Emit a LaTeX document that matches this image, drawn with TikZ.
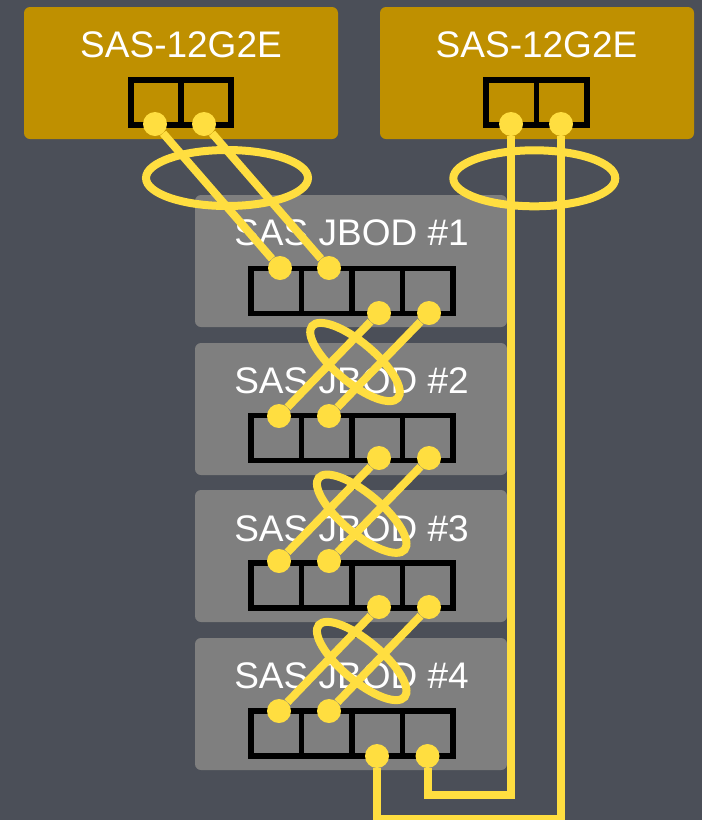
\documentclass[tikz,border=0pt]{standalone}
\usepackage{fontspec}
\setmainfont{Liberation Sans}
\usepackage{tikz}
\usetikzlibrary{shapes.geometric}
\definecolor{slatebg}{HTML}{4B4F58}
\definecolor{hbagold}{HTML}{BF9000}
\definecolor{jbodgrey}{HTML}{7F7F7F}
\definecolor{cableyellow}{HTML}{FFDE40}
\tikzset{
  box/.style={rounded corners=6pt, minimum width=314pt, minimum height=132pt, inner sep=0pt},
  hba/.style={box, fill=hbagold},
  jbod/.style={box, fill=jbodgrey, minimum width=312pt},
  title/.style={text=white, font=\fontsize{37pt}{40pt}\selectfont, inner sep=0pt, anchor=base},
  port/.style={draw=black, line width=5.5pt, minimum width=50.5pt, minimum height=45pt, inner sep=0pt},
  portdot/.style={circle, fill=cableyellow, minimum size=24pt, inner sep=0pt},
  cable/.style={draw=cableyellow, line width=8pt},
  ring/.style={ellipse, draw=cableyellow, line width=8pt, inner sep=0pt}
}

\begin{document}
\begin{tikzpicture}[x=1pt, y=-1pt]

  \fill[slatebg] (0,0) rectangle (702,820);
  \useasboundingbox (0,0) rectangle (702,820);

  % controllers
  \node[hba] (hbaA) at (181,73) {};
  \node[hba] (hbaB) at (537,73) {};
  \node[title] (hbaAtitle) at (181,57.5) {SAS-12G2E};
  \node[title] (hbaBtitle) at (536.5,57.5) {SAS-12G2E};

  \node[port, minimum width=50pt] (hbaAp1) at (155.8,102.5) {};
  \node[port, minimum width=50pt] (hbaAp2) at (205.8,102.5) {};
  \node[port] (hbaBp1) at (511,102.5) {};
  \node[port] (hbaBp2) at (561.5,102.5) {};

  % enclosures
  \foreach \n/\y/\t/\p in {1/261/245/291, 2/409/393/438, 3/556/541/585.7, 4/704/688/733.3} {
    \node[jbod] (jbod\n) at (351,\y) {};
    \node[title] (jbod\n title) at (351.5,\t) {SAS JBOD \#\n};
    \node[port] (jbod\n p1) at (276,\p) {};
    \node[port] (jbod\n p2) at (326.5,\p) {};
    \node[port] (jbod\n p3) at (377,\p) {};
    \node[port] (jbod\n p4) at (427.5,\p) {};
  }

  % port dots
  \node[portdot] (a1) at (155,124) {};
  \node[portdot] (a2) at (204,124) {};
  \node[portdot] (b1) at (511,124) {};
  \node[portdot] (b2) at (561,124) {};
  \node[portdot] (j1a) at (280,268) {};
  \node[portdot] (j1b) at (329,268) {};
  \node[portdot] (j1c) at (379,313) {};
  \node[portdot] (j1d) at (429,313) {};
  \node[portdot] (j2a) at (279,416) {};
  \node[portdot] (j2b) at (329,416) {};
  \node[portdot] (j2c) at (379,458) {};
  \node[portdot] (j2d) at (429,458) {};
  \node[portdot] (j3a) at (279,561) {};
  \node[portdot] (j3b) at (329,561) {};
  \node[portdot] (j3c) at (379,607) {};
  \node[portdot] (j3d) at (429,607) {};
  \node[portdot] (j4a) at (279,711) {};
  \node[portdot] (j4b) at (329,711) {};
  \node[portdot] (j4c) at (377,756) {};
  \node[portdot] (j4d) at (427.5,756) {};

  % cables
  \draw[cable] (a1) -- (j1a);
  \draw[cable] (a2) -- (j1b);
  \draw[cable] (j1c) -- (j2a);
  \draw[cable] (j1d) -- (j2b);
  \draw[cable] (j2c) -- (j3a);
  \draw[cable] (j2d) -- (j3b);
  \draw[cable] (j3c) -- (j4a);
  \draw[cable] (j3d) -- (j4b);
  \coordinate (loopA) at (470,794.5);
  \coordinate (loopB) at (470,819);
  \draw[cable] (b1) -- (b1 |- loopA) -- (j4d |- loopA) -- (j4d);
  \draw[cable] (b2) -- (b2 |- loopB) -- (j4c |- loopB) -- (j4c);

  % rings
  \node[ring, minimum width=162pt, minimum height=56pt] (ringA) at (227,178) {};
  \node[ring, minimum width=162pt, minimum height=56pt] (ringB) at (534.3,178.3) {};
  \node[ring, minimum width=112pt, minimum height=40pt, rotate=-40] (ring1) at (355,362) {};
  \node[ring, minimum width=112pt, minimum height=40pt, rotate=-40] (ring2) at (361.7,513.7) {};
  \node[ring, minimum width=112pt, minimum height=40pt, rotate=-40] (ring3) at (361.7,661) {};

\end{tikzpicture}
\end{document}
